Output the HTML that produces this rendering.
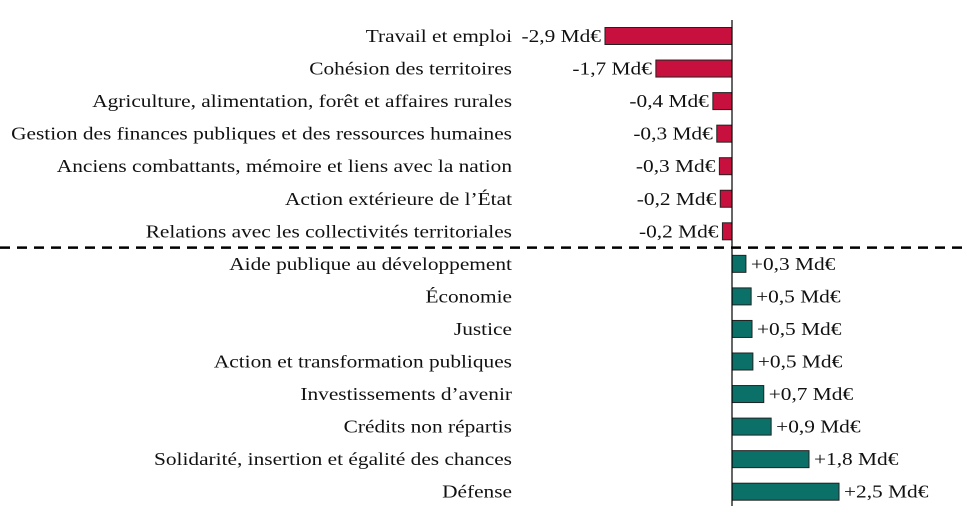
<!DOCTYPE html>
<html><head><meta charset="utf-8">
<style>
html,body{margin:0;padding:0;background:#fff;}
svg{display:block;}
text{font-family:"Liberation Serif",serif;font-size:17.5px;fill:#111;}
</style></head>
<body>
<svg id="chart" width="967" height="518" viewBox="0 0 967 518"></svg>
<script>
const categories = ["Travail et emploi","Cohésion des territoires","Agriculture, alimentation, forêt et affaires rurales","Gestion des finances publiques et des ressources humaines","Anciens combattants, mémoire et liens avec la nation","Action extérieure de l’État","Relations avec les collectivités territoriales","Aide publique au développement","Économie","Justice","Action et transformation publiques","Investissements d’avenir","Crédits non répartis","Solidarité, insertion et égalité des chances","Défense"];
const values = [-2.92,-1.75,-0.44,-0.35,-0.29,-0.27,-0.22,0.32,0.44,0.46,0.48,0.73,0.9,1.77,2.46];
const valueLabels = ["-2,9 Md€","-1,7 Md€","-0,4 Md€","-0,3 Md€","-0,3 Md€","-0,2 Md€","-0,2 Md€","+0,3 Md€","+0,5 Md€","+0,5 Md€","+0,5 Md€","+0,7 Md€","+0,9 Md€","+1,8 Md€","+2,5 Md€"];

const svg = document.getElementById('chart');
const NS = 'http://www.w3.org/2000/svg';
const x0 = 732, pxPerUnit = 43.5;
const xScale = v => x0 + v * pxPerUnit;
const rowTop = 36, rowStep = 32.55;
const yScale = i => rowTop + i * rowStep;
const barH = 17;
const sx = 1.22;

function mk(tag, attrs){ const e = document.createElementNS(NS, tag); for (const k in attrs) e.setAttribute(k, attrs[k]); svg.appendChild(e); return e; }
function txt(x, y, anchor, s){
  const t = mk('text', {x: 0, y: 0, 'text-anchor': anchor, transform: 'translate(' + x + ',' + y + ') scale(' + sx + ',1)'});
  t.textContent = s;
  return t;
}

categories.forEach((c, i) => {
  const v = values[i];
  const y = yScale(i);
  const xa = xScale(Math.min(0, v)), xb = xScale(Math.max(0, v));
  const bar = mk('rect', {x: xa, y: y - barH/2, width: xb - xa, height: barH,
    fill: v < 0 ? '#c8103e' : '#0b7068', stroke: '#222', 'stroke-width': 1});
  
  
  const lab = txt(512, y + 6, 'end', c);
  
  
  const vl = v < 0 ? txt(xa - 4, y + 6, 'end', valueLabels[i]) : txt(xb + 5, y + 6, 'start', valueLabels[i]);
  
  
});

const negCount = values.filter(v => v < 0).length;
const sepY = (yScale(negCount - 1) + yScale(negCount)) / 2;
const sep = mk('line', {x1: 0, x2: 967, y1: sepY, y2: sepY, stroke: '#000', 'stroke-width': 2.5, 'stroke-dasharray': '10 7'});



const ax = mk('line', {x1: x0, x2: x0, y1: 20, y2: 506, stroke: '#000', 'stroke-width': 1.2});


</script>
</body></html>
